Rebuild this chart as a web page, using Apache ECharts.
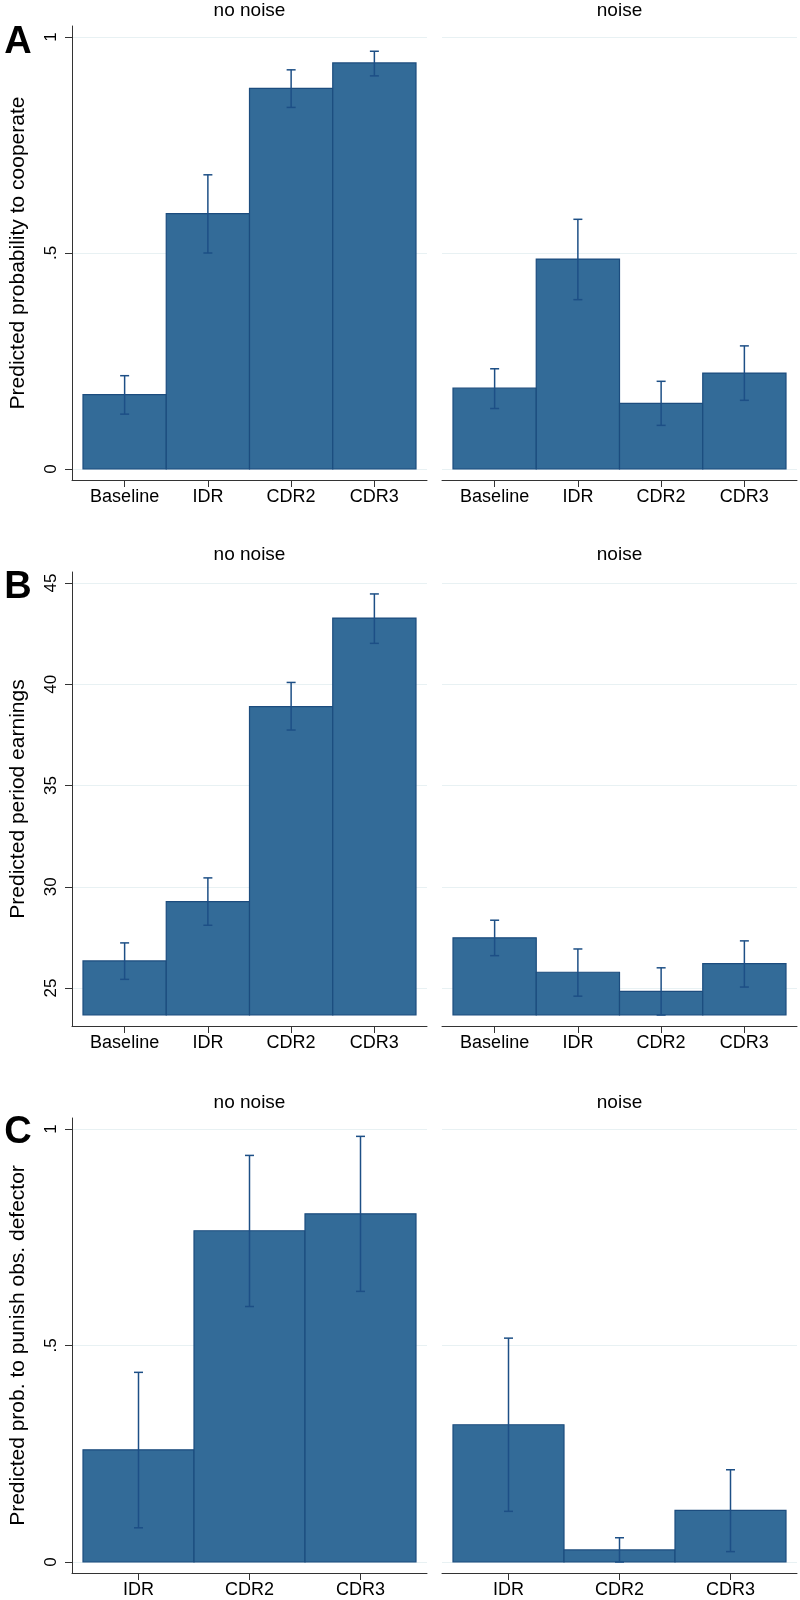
<!DOCTYPE html>
<html>
<head>
<meta charset="utf-8">
<title>Predicted cooperation, earnings and punishment</title>
<script src="https://cdn.jsdelivr.net/npm/echarts@6/dist/echarts.min.js"></script>
<style>
    html, body { margin: 0; padding: 0; background: #fff; }
    #chart { width: 800px; height: 1600px; }
</style>
</head>
<body>
<div id="chart"></div>
<script>
// categories
const treatments4 = ['Baseline', 'IDR', 'CDR2', 'CDR3'];
const treatments3 = ['IDR', 'CDR2', 'CDR3'];

// A: predicted probability to cooperate (estimate, lower, upper)
const coopNoNoise = [0.172, 0.591, 0.881, 0.940];
const coopNoNoiseLo = [0.127, 0.500, 0.837, 0.910];
const coopNoNoiseHi = [0.216, 0.681, 0.924, 0.967];
const coopNoise = [0.187, 0.486, 0.152, 0.222];
const coopNoiseLo = [0.140, 0.392, 0.101, 0.159];
const coopNoiseHi = [0.232, 0.578, 0.203, 0.285];

// B: predicted period earnings
const earnNoNoise = [26.34, 29.27, 38.90, 43.27];
const earnNoNoiseLo = [25.43, 28.10, 37.74, 42.02];
const earnNoNoiseHi = [27.23, 30.44, 40.09, 44.46];
const earnNoise = [27.48, 25.78, 24.84, 26.21];
const earnNoiseLo = [26.60, 24.60, 23.67, 25.05];
const earnNoiseHi = [28.35, 26.93, 26.00, 27.33];

// C: predicted prob. to punish observed defector
const punNoNoise = [0.259, 0.765, 0.804];
const punNoNoiseLo = [0.079, 0.590, 0.625];
const punNoNoiseHi = [0.438, 0.939, 0.983];
const punNoise = [0.317, 0.028, 0.119];
const punNoiseLo = [0.117, 0.000, 0.024];
const punNoiseHi = [0.517, 0.056, 0.213];

// tick labels
const probTicks = [0, 0.5, 1];
const probTickLabels = ['0', '.5', '1'];
const earnTicks = [25, 30, 35, 40, 45];
const earnTickLabels = ['25', '30', '35', '40', '45'];

const FONT = '"Liberation Sans", Arial, Helvetica, sans-serif';
const BAR = '#336b98';
const EDGE = '#1c4c7e';
const CI = '#1d4f86';
const AXIS = '#333333';
const GRID = '#e8f1f3';
const PAD = 11; // plot region margin around the data, px

const rows = [
    { top: 26, height: 454, letter: 'A', letterY: 43, titleY: 11 },
    { top: 572, height: 454, letter: 'B', letterY: 588, titleY: 555 },
    { top: 1118, height: 455, letter: 'C', letterY: 1133, titleY: 1103 }
];
const cols = [
    { left: 72, width: 355, title: 'no noise' },
    { left: 442, width: 355, title: 'noise' }
];

const panels = [
    { row: 0, col: 0, cats: treatments4, est: coopNoNoise, lo: coopNoNoiseLo, hi: coopNoNoiseHi,
      base: 0, top: 1, ticks: probTicks, tickLabels: probTickLabels, yName: 'Predicted probability to cooperate' },
    { row: 0, col: 1, cats: treatments4, est: coopNoise, lo: coopNoiseLo, hi: coopNoiseHi,
      base: 0, top: 1, ticks: probTicks, tickLabels: probTickLabels },
    { row: 1, col: 0, cats: treatments4, est: earnNoNoise, lo: earnNoNoiseLo, hi: earnNoNoiseHi,
      base: 23.67, top: 45, ticks: earnTicks, tickLabels: earnTickLabels, yName: 'Predicted period earnings' },
    { row: 1, col: 1, cats: treatments4, est: earnNoise, lo: earnNoiseLo, hi: earnNoiseHi,
      base: 23.67, top: 45, ticks: earnTicks, tickLabels: earnTickLabels },
    { row: 2, col: 0, cats: treatments3, est: punNoNoise, lo: punNoNoiseLo, hi: punNoNoiseHi,
      base: 0, top: 1, ticks: probTicks, tickLabels: probTickLabels, yName: 'Predicted prob. to punish obs. defector' },
    { row: 2, col: 1, cats: treatments3, est: punNoise, lo: punNoiseLo, hi: punNoiseHi,
      base: 0, top: 1, ticks: probTicks, tickLabels: probTickLabels }
];

function renderBar(params, api) {
    const i = api.value(0);
    const p0 = api.coord([i, api.value(1)]);
    const p1 = api.coord([i + 1, api.value(2)]);
    return {
        type: 'rect',
        shape: { x: p0[0], y: p0[1], width: p1[0] - p0[0], height: p1[1] - p0[1] },
        style: { fill: BAR, stroke: EDGE, lineWidth: 1.2 }
    };
}

function renderCI(params, api) {
    const x = api.value(0) + 0.5;
    const lo = api.coord([x, api.value(1)]);
    const hi = api.coord([x, api.value(2)]);
    const w = 4.5;
    const style = { stroke: CI, lineWidth: 1.5 };
    return {
        type: 'group',
        children: [
            { type: 'line', shape: { x1: lo[0], y1: lo[1], x2: hi[0], y2: hi[1] }, style },
            { type: 'line', shape: { x1: lo[0] - w, y1: lo[1], x2: lo[0] + w, y2: lo[1] }, style },
            { type: 'line', shape: { x1: hi[0] - w, y1: hi[1], x2: hi[0] + w, y2: hi[1] }, style }
        ]
    };
}

const grid = [], xAxis = [], yAxis = [], series = [], graphic = [];

panels.forEach((p, k) => {
    const r = rows[p.row], c = cols[p.col];
    grid.push({ left: c.left, top: r.top, width: c.width, height: r.height });

    const n = p.cats.length;
    const mx = PAD * n / (c.width - 2 * PAD);
    const centers = p.cats.map((_, i) => i + 0.5);
    xAxis.push({
        gridIndex: k, type: 'value', min: -mx, max: n + mx,
        axisLine: { onZero: false, lineStyle: { color: AXIS, width: 1 } },
        axisTick: { length: 7, customValues: centers, lineStyle: { color: AXIS } },
        axisLabel: {
            customValues: centers, margin: 8, fontSize: 18, color: '#000', fontFamily: FONT,
            formatter: v => p.cats[Math.round(v - 0.5)]
        },
        splitLine: { show: false }
    });

    const perUnit = (r.height - 2 * PAD) / (p.top - p.base);
    const left = p.col === 0;
    yAxis.push({
        gridIndex: k, type: 'value',
        min: p.base - PAD / perUnit, max: p.top + PAD / perUnit,
        axisLine: { show: left, onZero: false, lineStyle: { color: AXIS, width: 1 } },
        axisTick: { show: left, length: 7, customValues: p.ticks, lineStyle: { color: AXIS } },
        axisLabel: {
            show: left, customValues: p.ticks, rotate: 90, margin: 12, fontSize: 17, color: '#000', fontFamily: FONT,
            formatter: v => p.tickLabels[p.ticks.indexOf(v)]
        },
        splitLine: { show: true, lineStyle: { color: GRID, width: 1 } },
        name: p.yName || '', nameLocation: 'middle', nameRotate: 90, nameGap: 43,
        nameTextStyle: { fontSize: 21, color: '#000', fontFamily: FONT }
    });

    series.push({
        type: 'custom', xAxisIndex: k, yAxisIndex: k, renderItem: renderBar,
        encode: { x: 0, y: [1, 2] },
        data: p.est.map((v, i) => [i, v, p.base])
    });
    series.push({
        type: 'custom', xAxisIndex: k, yAxisIndex: k, renderItem: renderCI,
        encode: { x: 0, y: [1, 2] },
        data: p.lo.map((v, i) => [i, v, p.hi[i]])
    });

    graphic.push({
        type: 'text', x: c.left + c.width / 2, y: r.titleY,
        style: { text: c.title, textAlign: 'center', textVerticalAlign: 'middle', fontSize: 19, fontFamily: FONT, fill: '#000' }
    });
});

rows.forEach(r => {
    graphic.push({
        type: 'text', x: 18, y: r.letterY,
        style: { text: r.letter, textAlign: 'center', textVerticalAlign: 'middle', fontSize: 38, fontWeight: 'bold', fontFamily: FONT, fill: '#000' }
    });
});

const chart = echarts.init(document.getElementById('chart'), null, { renderer: 'canvas' });
chart.setOption({
    animation: false,
    backgroundColor: '#fff',
    grid, xAxis, yAxis, series, graphic
});
</script>
</body>
</html>
